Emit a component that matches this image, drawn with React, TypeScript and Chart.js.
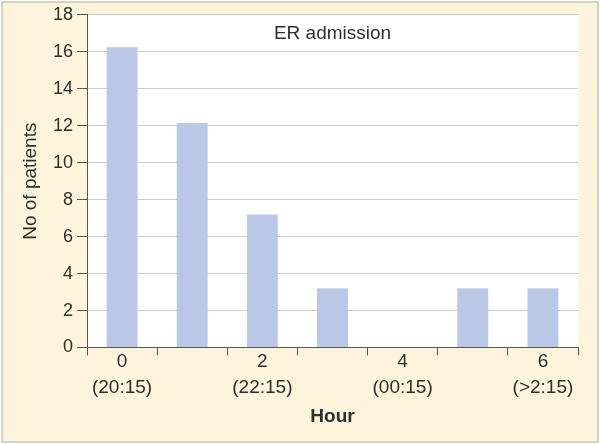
import React, { useEffect, useRef } from "react";
import { Chart, registerables } from "chart.js";

Chart.register(...registerables);

const categories: (string | string[])[] = [
  ["0", "(20:15)"],
  "",
  ["2", "(22:15)"],
  "",
  ["4", "(00:15)"],
  "",
  ["6", "(>2:15)"],
];
const patients = [16.25, 12.15, 7.2, 3.2, 0, 3.2, 3.2];
const yTicks = { min: 0, max: 18, step: 2 };
const panelTitle = "ER admission";
const xTitle = "Hour";
const yTitle = "No of patients";

const FONT = '"Liberation Sans", Arial, sans-serif';

const bgPlugin = {
  id: "bgPlugin",
  beforeDraw(chart: any) {
    const { ctx, width, height, chartArea } = chart;
    ctx.save();
    ctx.fillStyle = "#ffffff";
    ctx.fillRect(0, 0, width, height);
    ctx.fillStyle = "#fdf4db";
    ctx.fillRect(2, 2, width - 4, height - 4);
    ctx.strokeStyle = "#c9c6bd";
    ctx.lineWidth = 1.5;
    ctx.strokeRect(2, 2, width - 4, height - 4);
    ctx.fillStyle = "#ffffff";
    ctx.fillRect(chartArea.left, chartArea.top, chartArea.right - chartArea.left, chartArea.bottom - chartArea.top);
    ctx.restore();
  },
  afterDraw(chart: any) {
    const { ctx, chartArea } = chart;
    ctx.save();
    ctx.font = `19px ${FONT}`;
    ctx.fillStyle = "#2e2e2e";
    ctx.textAlign = "center";
    ctx.textBaseline = "middle";
    ctx.fillText(panelTitle, (chartArea.left + chartArea.right) / 2, chartArea.top + 19);
    ctx.restore();
  },
};

export default function App() {
  const ref = useRef<HTMLCanvasElement | null>(null);
  useEffect(() => {
    if (!ref.current) return;
    const chart = new Chart(ref.current, {
      type: "bar",
      data: {
        labels: categories as any,
        datasets: [
          {
            data: patients,
            backgroundColor: "#b8c8e6",
            borderWidth: 0,
            categoryPercentage: 1,
            barPercentage: 0.44,
          },
        ],
      },
      plugins: [bgPlugin],
      options: {
        responsive: false,
        animation: false,
        devicePixelRatio: 1,
        layout: { padding: { top: 13, right: 22, left: 0, bottom: 0 } },
        plugins: {
          legend: { display: false },
          tooltip: { enabled: false },
          title: { display: false },
        },
        scales: {
          x: {
            offset: true,
            grid: {
              offset: true,
              drawOnChartArea: false,
              drawTicks: true,
              tickLength: 8,
              tickColor: "#555555",
            },
            border: { color: "#555555", width: 1 },
            ticks: {
              autoSkip: false,
              maxRotation: 0,
              padding: -6.5,
              color: "#2e2e2e",
              font: { family: FONT, size: 19, lineHeight: 1.37 },
            },
            title: {
              display: true,
              text: xTitle,
              color: "#2e2e2e",
              font: { family: FONT, size: 19, weight: "bold", lineHeight: 1.2 },
              padding: { top: 0, bottom: 15.6 },
            },
            afterFit(scale: any) {
              scale.height = 96.5;
            },
          },
          y: {
            min: yTicks.min,
            max: yTicks.max,
            grid: {
              color: "#cbcbcb",
              tickColor: "#555555",
              tickLength: 10,
              drawTicks: true,
            },
            border: { color: "#555555", width: 1 },
            ticks: {
              stepSize: yTicks.step,
              padding: 4,
              color: "#2e2e2e",
              font: { family: FONT, size: 18 },
            },
            title: {
              display: true,
              text: yTitle,
              color: "#2e2e2e",
              font: { family: FONT, size: 19, lineHeight: 1.2 },
              padding: { top: 19.6, bottom: 0 },
            },
            afterFit(scale: any) {
              scale.width = 87;
            },
          },
        },
      } as any,
    });
    return () => chart.destroy();
  }, []);
  return (
    <div style={{ position: "fixed", left: 0, top: 0, width: 600, height: 444 }}>
      <canvas ref={ref} width={600} height={444} style={{ display: "block" }} />
    </div>
  );
}
